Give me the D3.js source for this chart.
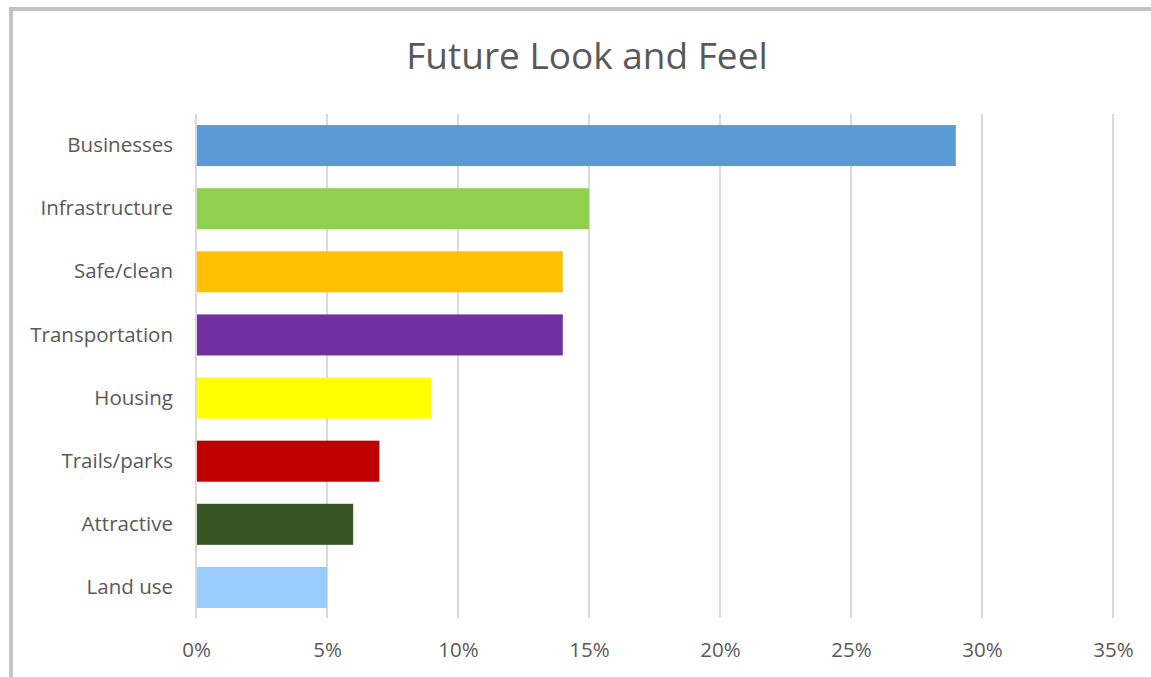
<!DOCTYPE html>
<html>
<head>
<meta charset="utf-8">
<script src="https://cdn.jsdelivr.net/npm/d3@7/dist/d3.min.js"></script>
<style>
  html, body { margin: 0; padding: 0; background: #fff; }
  svg { display: block; }
</style>
</head>
<body>
<svg id="chart" width="1151" height="677"></svg>
<script>
// Survey topics and their share of responses
const categories = ["Businesses", "Infrastructure", "Safe/clean", "Transportation", "Housing", "Trails/parks", "Attractive", "Land use"];
const shares = [0.29, 0.15, 0.14, 0.14, 0.09, 0.07, 0.06, 0.05];
const barColors = ["#5B9BD5", "#92D050", "#FFC000", "#7030A0", "#FFFF00", "#C00000", "#375623", "#99CCFF"];
const tickValues = [0, 0.05, 0.10, 0.15, 0.20, 0.25, 0.30, 0.35];
const title = "Future Look and Feel";

const svg = d3.select("#chart");
const font = "'Open Sans', 'Segoe UI', sans-serif";
const textColor = "#595959";

// Chart frame
svg.append("rect")
  .attr("x", 11).attr("y", 9)
  .attr("width", 1160).attr("height", 700)
  .attr("fill", "#fff")
  .attr("stroke", "#c3c3c3")
  .attr("stroke-width", 4);

const plot = { left: 196, right: 1113, top: 114, bottom: 618 };

const x = d3.scaleLinear().domain([0, 0.35]).range([plot.left, plot.right]);
const y = d3.scaleBand().domain(categories).range([plot.top, plot.bottom + 1]).paddingInner(0.35).paddingOuter(0.175);

// Title
svg.append("text")
  .attr("x", 587).attr("y", 69)
  .attr("text-anchor", "middle")
  .attr("font-family", font)
  .attr("font-size", 37)
  .attr("fill", textColor)
  .text(title);

// Vertical gridlines
svg.append("g")
  .selectAll("line")
  .data(tickValues)
  .join("line")
  .attr("x1", d => x(d)).attr("x2", d => x(d))
  .attr("y1", plot.top).attr("y2", plot.bottom)
  .attr("stroke", "#d9d9d9")
  .attr("stroke-width", 2);

// Bars
svg.append("g")
  .selectAll("rect")
  .data(categories)
  .join("rect")
  .attr("x", x(0) + 1)
  .attr("y", d => y(d))
  .attr("width", (d, i) => x(shares[i]) - x(0) - 1)
  .attr("height", y.bandwidth())
  .attr("fill", (d, i) => barColors[i]);

// X axis labels
const xAxis = d3.axisBottom(x)
  .tickValues(tickValues)
  .tickFormat(d3.format(".0%"))
  .tickSize(0)
  .tickPadding(0);

const gx = svg.append("g")
  .attr("transform", `translate(0, ${plot.bottom + 24})`)
  .call(xAxis);
gx.select(".domain").remove();
gx.selectAll("text")
  .attr("font-family", font)
  .attr("font-size", 20.5)
  .attr("fill", textColor)
  .attr("dy", "0.75em");

// Y axis labels
const yAxis = d3.axisLeft(y).tickSize(0).tickPadding(0);
const gy = svg.append("g")
  .attr("transform", `translate(${plot.left - 23}, 0)`)
  .call(yAxis);
gy.select(".domain").remove();
gy.selectAll("text")
  .attr("font-family", font)
  .attr("font-size", 20.5)
  .attr("fill", textColor);
</script>
</body>
</html>
